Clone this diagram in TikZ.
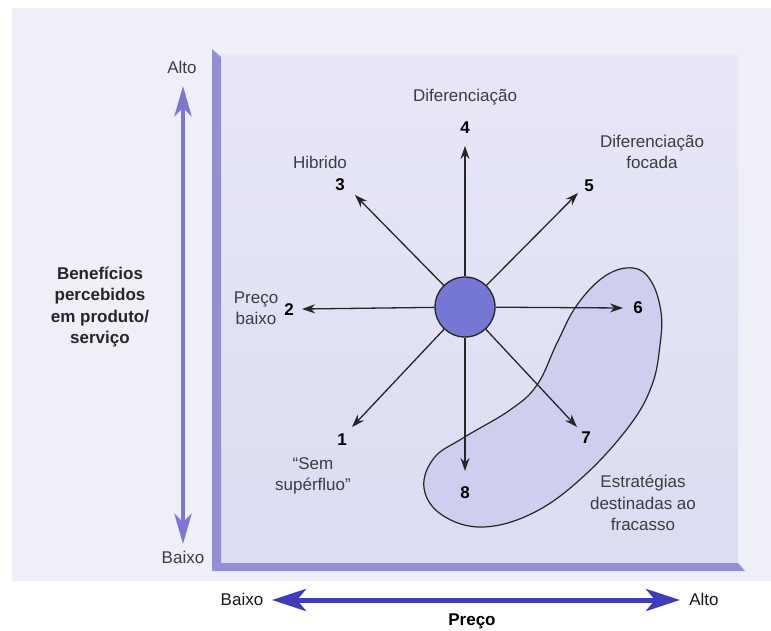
\documentclass[tikz,border=0pt]{standalone}
\usepackage{fontspec}
\setmainfont{Liberation Sans}
\usetikzlibrary{arrows.meta}

\definecolor{fundo}{RGB}{239,239,248}
\definecolor{painelA}{RGB}{231,231,248}
\definecolor{painelB}{RGB}{220,220,242}
\definecolor{borda}{RGB}{148,142,210}
\definecolor{bola}{RGB}{118,118,212}
\definecolor{mancha}{RGB}{206,206,238}
\definecolor{eixo}{RGB}{128,118,210}
\definecolor{preco}{RGB}{62,60,182}
\definecolor{texto}{RGB}{60,60,66}

\tikzset{
  rotulo/.style={font=\fontsize{17}{21.5}\selectfont, text=texto, align=center, inner sep=0pt},
  num/.style={font=\fontsize{17}{21}\selectfont\bfseries, inner sep=0pt},
  seta/.style={-{Stealth[length=13pt,width=9pt]}, line width=1.3pt, draw=black!85},
  eixov/.style={{Stealth[length=30pt,width=17pt,inset=8pt]}-{Stealth[length=30pt,width=17pt,inset=8pt]}, line width=4.5pt, draw=eixo},
  eixoh/.style={{Stealth[length=34pt,width=22pt,inset=9pt]}-{Stealth[length=34pt,width=22pt,inset=9pt]}, line width=5pt, draw=preco},
}

\begin{document}
\begin{tikzpicture}[x=1pt,y=-1pt]
	\useasboundingbox (0,0) rectangle (771,631);
	\fill[white] (0,0) rectangle (771,631);
	\fill[fundo] (12,8) rectangle (771,581);

	% quadro
	\shade[top color=painelA, bottom color=painelB] (220,55) rectangle (738,563);
	\fill[borda] (212,49) -- (221,57) -- (221,563) -- (212,571) -- cycle;
	\fill[borda] (212,571) -- (221,563) -- (738,563) -- (745,571) -- cycle;

	% estrategias destinadas ao fracasso
	\filldraw[fill=mancha, draw=black!85, line width=1.2pt]
		plot[smooth cycle, tension=0.65] coordinates {
			(633,268) (651,281) (661,312) (660,345) (652,385) (630,425) (585,475)
			(535,512) (483,527) (442,515) (424,488) (434,458) (463,438) (510,410)
			(537,385) (557,343) (577,305) (605,276)};

	\node[circle, draw=black!85, line width=1.3pt, fill=bola, minimum size=60pt, inner sep=0pt] (centro) at (465,307) {};

	\coordinate (t1) at (352,427);
	\coordinate (t2) at (302,309);
	\coordinate (t3) at (355,195);
	\coordinate (t4) at (465,146);
	\coordinate (t5) at (578,193);
	\coordinate (t6) at (623,308);
	\coordinate (t7) at (577,427);
	\coordinate (t8) at (465,471);

	\foreach \i in {1,...,8}
		\draw[seta] (centro) -- (t\i);

	\node[num] (n1) at (342,440) {1};
	\node[num] (n2) at (289,310) {2};
	\node[num] (n3) at (340,185) {3};
	\node[num] (n4) at (465,128) {4};
	\node[num] (n5) at (589,186) {5};
	\node[num] (n6) at (638,308) {6};
	\node[num] (n7) at (586,438) {7};
	\node[num] (n8) at (465,493) {8};

	\node[rotulo] (dif) at (465,97) {Diferenciação};
	\node[rotulo] (hib) at (320,162) {Hibrido};
	\node[rotulo] (difoc) at (652,152) {Diferenciação\\focada};
	\node[rotulo] (pbaixo) at (256,308) {Preço\\baixo};
	\node[rotulo] (sem) at (313,476) {“Sem\\supérfluo”};
	\node[rotulo] (fracasso) at (643,503) {Estratégias\\destinadas ao\\fracasso};

	% eixos
	\node[rotulo] (valto) at (182,67) {Alto};
	\node[rotulo] (vbaixo) at (183,557) {Baixo};
	\coordinate (va) at (183,86);
	\coordinate (vb) at (183,544);
	\draw[eixov] (va) -- (vb);
	\node[rotulo, font=\fontsize{17}{21.5}\selectfont\bfseries, text=black!85] (benef) at (100,307) {Benefícios\\percebidos\\em produto/\\serviço};

	\node[rotulo, text=black!90] (hbaixo) at (242,599) {Baixo};
	\node[rotulo, text=black!90] (halto) at (704,599) {Alto};
	\coordinate (ha) at (272,600);
	\coordinate (hb) at (680,600);
	\draw[eixoh] (ha) -- (hb);
	\node[rotulo, font=\fontsize{17}{21.5}\selectfont\bfseries, text=black] (preco) at (472,621) {Preço};
\end{tikzpicture}
\end{document}
